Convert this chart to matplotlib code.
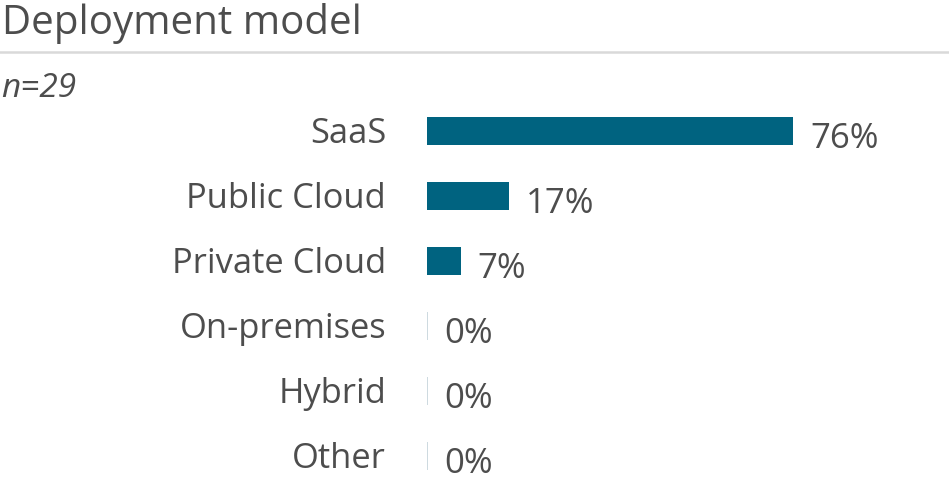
import matplotlib
matplotlib.use('Agg')
import matplotlib.pyplot as plt
from matplotlib.lines import Line2D

plt.rcParams['font.family'] = ['Open Sans', 'DejaVu Sans']

# data
categories = ['SaaS', 'Public Cloud', 'Private Cloud', 'On-premises', 'Hybrid', 'Other']
values = [76, 17, 7, 0, 0, 0]
title = 'Deployment model'
subtitle = 'n=29'

bar_color = '#006380'
zero_color = '#c5d3da'
text_color = '#4d4d4d'

W, H = 949, 483
fig = plt.figure(figsize=(W / 100, H / 100), dpi=100)

# axes: bars start at x=427px, 65px per row, first row centred at y=131px
left_px = 427
top_px = 98.5
ax = fig.add_axes([left_px / W, 0, (W - left_px) / W, (H - top_px) / H])
px_per_pct = 366 / 76
ax.set_xlim(0, (W - left_px) / px_per_pct)
ax.set_ylim((H - top_px) / 65 - 0.5, -0.5)
ax.axis('off')

pos = list(range(len(categories)))
ax.barh(pos, values, height=28 / 65, color=bar_color)

# thin marker for empty rows
zeros = [p for p, v in zip(pos, values) if v == 0]
ax.vlines([0] * len(zeros), [p - 14 / 65 for p in zeros], [p + 14 / 65 for p in zeros],
          color=zero_color, linewidth=1.2)

pt = 0.72  # points per pixel at 100 dpi
for p, cat, v in zip(pos, categories, values):
    ax.annotate(cat, xy=(0, p), xytext=(-41 * pt, -12 * pt), textcoords='offset points',
                ha='right', va='baseline', fontsize=24.8, color=text_color,
                annotation_clip=False)
    ax.annotate(f'{v}%', xy=(v, p), xytext=(17 * pt, -17 * pt), textcoords='offset points',
                ha='left', va='baseline', fontsize=25, color=text_color,
                annotation_clip=False)

fig.text(2 / W, 1 - 34.5 / H, title, ha='left', va='baseline', fontsize=29, color=text_color)
fig.text(1 / W, 1 - 96.5 / H, subtitle, ha='left', va='baseline', fontsize=24,
         style='italic', color=text_color)
fig.add_artist(Line2D([0, 1], [1 - 51.5 / H] * 2, transform=fig.transFigure,
                      color='#d9d9d9', linewidth=1.8))

fig.savefig('out.png', dpi=100)
